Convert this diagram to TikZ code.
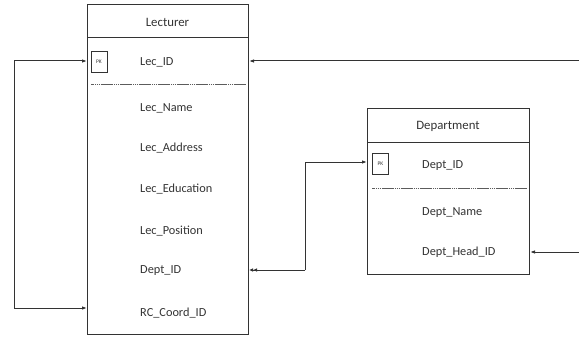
\documentclass[tikz,border=0pt]{standalone}
\usepackage{fontspec}
\setmainfont{Carlito}
\usetikzlibrary{arrows.meta}
\definecolor{ln}{HTML}{333333}
\definecolor{tx}{HTML}{333333}
\begin{document}
\begin{tikzpicture}[x=1pt,y=-1pt,
  box/.style={draw=ln,line width=1pt,inner sep=0pt},
  fld/.style={anchor=west,inner sep=0pt,text=tx,font=\fontsize{12.3}{14}\selectfont},
  ttl/.style={inner sep=0pt,text=tx,font=\fontsize{12.8}{15}\selectfont},
  pk/.style={draw=ln,line width=0.8pt,minimum width=16pt,minimum height=21pt,inner sep=0pt,text=tx,font=\fontsize{5.5}{6}\selectfont},
  conn/.style={draw=ln,line width=1pt},
  tip/.style={-{Latex[length=5pt,width=3.5pt]}},
  btip/.style={{Latex[length=5pt,width=3.5pt]}-{Latex[length=5pt,width=3.5pt]}},
  dtip/.style={-{Latex[length=4pt,width=3.5pt]Latex[length=4pt,width=3.5pt]}},
  sep/.style={draw=ln!80,line width=0.4pt,dash pattern=on 1.5pt off 0.4pt}]
\useasboundingbox (0,0) rectangle (579,337);
% Lecturer
\node[box,minimum width=161pt,minimum height=330pt,anchor=north west] (lec) at (87,4) {};
\draw[ln,line width=1pt] (87,38) -- (248,38);
\node[ttl] (lect) at (167.5,22) {Lecturer};
\node[pk] (pk1) at (99,61.5) {PK};
\node[fld] (lid) at (140,62) {Lec\_ID};
\draw[sep] (91,84) -- (245,84);
\node[fld] (lname) at (140,108) {Lec\_Name};
\node[fld] (laddr) at (140,148) {Lec\_Address};
\node[fld] (ledu) at (140,189) {Lec\_Education};
\node[fld] (lpos) at (140,231) {Lec\_Position};
\node[fld] (ldept) at (140,271) {Dept\_ID};
\node[fld] (lrc) at (140,313) {RC\_Coord\_ID};
% Department
\node[box,minimum width=162pt,minimum height=166pt,anchor=north west] (dep) at (367,108) {};
\draw[ln,line width=1pt] (367,142) -- (529,142);
\node[ttl] (dept) at (448,126) {Department};
\node[pk] (pk2) at (380.5,164) {PK};
\node[fld] (did) at (422,166) {Dept\_ID};
\draw[sep] (372,188) -- (526,188);
\node[fld] (dname) at (422,213) {Dept\_Name};
\node[fld] (dhead) at (422,252) {Dept\_Head\_ID};
% anchor points
\coordinate (e1) at (579,61);
\coordinate (e2) at (579,252);
\coordinate (lidW) at (lec.west |- 0,61);
\coordinate (lidE) at (lec.east |- 0,61);
\coordinate (lrcW) at (lec.west |- 0,308);
\coordinate (ldE) at (lec.east |- 0,270);
\coordinate (didW) at (dep.west |- 0,162);
\coordinate (dhE) at (dep.east |- 0,252);
% connectors
\draw[conn,btip] (lidW) -- (14,61) -- (14,308) -- (lrcW);
\draw[conn,tip] (e1) -- (lidE);
\draw[conn,tip] (e2) -- (dhE);
\draw[conn,tip] (305,270) -- (305,162) -- (didW);
\draw[conn,dtip] (305,270) -- (ldE);
\end{tikzpicture}
\end{document}
